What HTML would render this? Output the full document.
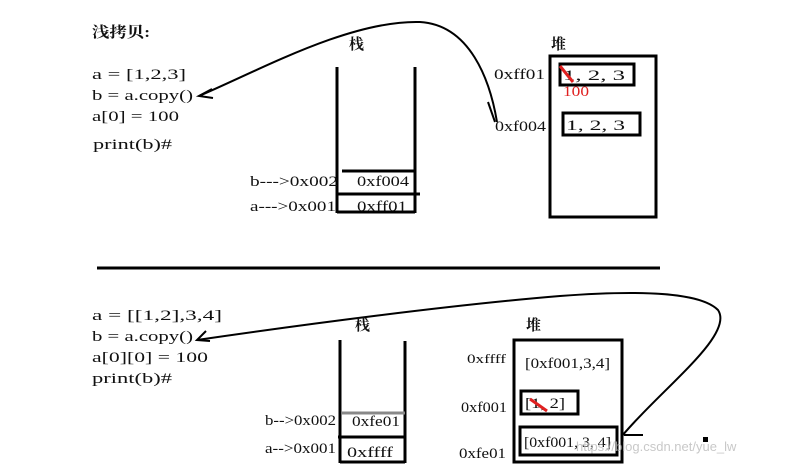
<!DOCTYPE html>
<html><head><meta charset="utf-8">
<style>
html,body{margin:0;padding:0;background:#fff;}
svg{display:block;}
text{font-family:"Liberation Serif","Noto Serif CJK SC",serif;font-size:15px;fill:#111;font-weight:500;}
.b{font-weight:bold;}
</style></head>
<body>
<svg width="810" height="465" viewBox="0 0 810 465">
  <!-- Top section -->
  <text x="92" y="37" class="b" textLength="58" lengthAdjust="spacingAndGlyphs">浅拷贝:</text>
  <g>
    <text x="92" y="79" textLength="94" lengthAdjust="spacingAndGlyphs">a = [1,2,3]</text>
    <text x="92" y="100" textLength="101" lengthAdjust="spacingAndGlyphs">b = a.copy()</text>
    <text x="92" y="121" textLength="87" lengthAdjust="spacingAndGlyphs">a[0] = 100</text>
    <text x="93" y="149" textLength="79" lengthAdjust="spacingAndGlyphs">print(b)#</text>
  </g>
  <path d="M199,96 C260,70 350,20 420,22 C470,25 490,80 497,122" fill="none" stroke="#000" stroke-width="2"/>
  <path d="M212,89 L199,96 L213,98" fill="none" stroke="#000" stroke-width="2"/>
  <path d="M488,102 L495,122" fill="none" stroke="#000" stroke-width="2"/>

  <text x="349" y="49" class="b">栈</text>
  <g stroke="#000" stroke-width="3">
    <line x1="337" y1="67" x2="337" y2="213"/>
    <line x1="415" y1="67" x2="415" y2="213"/>
    <line x1="337" y1="212" x2="415" y2="212"/>
    <line x1="342" y1="171" x2="415" y2="171"/>
    <line x1="337" y1="194" x2="420" y2="194"/>
  </g>
  <text x="357" y="186" textLength="52" lengthAdjust="spacingAndGlyphs">0xf004</text>
  <text x="357" y="211" textLength="50" lengthAdjust="spacingAndGlyphs">0xff01</text>
  <text x="250" y="186" textLength="88" lengthAdjust="spacingAndGlyphs">b---&gt;0x002</text>
  <text x="250" y="211" textLength="86" lengthAdjust="spacingAndGlyphs">a---&gt;0x001</text>

  <text x="551" y="49" class="b">堆</text>
  <rect x="550" y="56" width="106" height="161" fill="none" stroke="#000" stroke-width="3"/>
  <text x="494" y="79" textLength="51" lengthAdjust="spacingAndGlyphs">0xff01</text>
  <rect x="560" y="64" width="74" height="21" fill="none" stroke="#000" stroke-width="3"/>
  <text x="563" y="80" textLength="62" lengthAdjust="spacingAndGlyphs">1, 2, 3</text>
  <line x1="560" y1="66" x2="573" y2="82" stroke="#e02020" stroke-width="3"/>
  <text x="563" y="96" textLength="26" lengthAdjust="spacingAndGlyphs" style="fill:#e02020">100</text>
  <text x="495" y="131" textLength="51" lengthAdjust="spacingAndGlyphs">0xf004</text>
  <rect x="563" y="113" width="77" height="22" fill="none" stroke="#000" stroke-width="3"/>
  <text x="566" y="130" textLength="59" lengthAdjust="spacingAndGlyphs">1, 2, 3</text>

  <line x1="97" y1="268" x2="660" y2="268" stroke="#000" stroke-width="3"/>

  <!-- Bottom section -->
  <g>
    <text x="92" y="320" textLength="130" lengthAdjust="spacingAndGlyphs">a = [[1,2],3,4]</text>
    <text x="92" y="341" textLength="101" lengthAdjust="spacingAndGlyphs">b = a.copy()</text>
    <text x="92" y="362" textLength="116" lengthAdjust="spacingAndGlyphs">a[0][0] = 100</text>
    <text x="92" y="383" textLength="80" lengthAdjust="spacingAndGlyphs">print(b)#</text>
  </g>
  <path d="M197,340 C300,325 450,305 560,296 C640,290 700,292 718,310 C735,335 660,390 622,436" fill="none" stroke="#000" stroke-width="2"/>
  <path d="M206,331 L197,340 L210,341" fill="none" stroke="#000" stroke-width="2"/>
  <line x1="624" y1="435" x2="643" y2="435" stroke="#000" stroke-width="2"/>
  <rect x="703" y="437" width="5" height="5" fill="#000"/>

  <text x="355" y="330" class="b">栈</text>
  <g stroke="#000" stroke-width="3">
    <line x1="340" y1="340" x2="340" y2="463"/>
    <line x1="405" y1="341" x2="405" y2="463"/>
    <line x1="340" y1="462" x2="405" y2="462"/>
    <line x1="338" y1="437" x2="405" y2="437"/>
  </g>
  <line x1="342" y1="413" x2="405" y2="413" stroke="#888" stroke-width="3"/>
  <text x="352" y="426" textLength="48" lengthAdjust="spacingAndGlyphs">0xfe01</text>
  <text x="347" y="457" textLength="46" lengthAdjust="spacingAndGlyphs">0xffff</text>
  <text x="265" y="425" textLength="71" lengthAdjust="spacingAndGlyphs">b--&gt;0x002</text>
  <text x="265" y="453" textLength="71" lengthAdjust="spacingAndGlyphs">a--&gt;0x001</text>

  <text x="526" y="330" class="b">堆</text>
  <rect x="514" y="340" width="108" height="122" fill="none" stroke="#000" stroke-width="3"/>
  <text x="467" y="363" textLength="39" lengthAdjust="spacingAndGlyphs" style="font-size:13px">0xffff</text>
  <text x="525" y="368" textLength="85" lengthAdjust="spacingAndGlyphs">[0xf001,3,4]</text>
  <text x="461" y="412" textLength="46" lengthAdjust="spacingAndGlyphs">0xf001</text>
  <rect x="521" y="391" width="57" height="23" fill="none" stroke="#000" stroke-width="3"/>
  <text x="525" y="408" textLength="40" lengthAdjust="spacingAndGlyphs">[1, 2]</text>
  <line x1="530" y1="399" x2="547" y2="411" stroke="#e02020" stroke-width="3"/>
  <text x="459" y="458" textLength="47" lengthAdjust="spacingAndGlyphs">0xfe01</text>
  <rect x="520" y="427" width="97" height="28" fill="none" stroke="#000" stroke-width="3"/>
  <text x="524" y="447" textLength="87" lengthAdjust="spacingAndGlyphs">[0xf001, 3, 4]</text>
  <text x="576" y="451" style="font-family:'Liberation Sans',sans-serif;font-size:13px;font-weight:normal;fill:#bbb;opacity:0.8">https://blog.csdn.net/yue_lw</text>
</svg>
</body></html>
